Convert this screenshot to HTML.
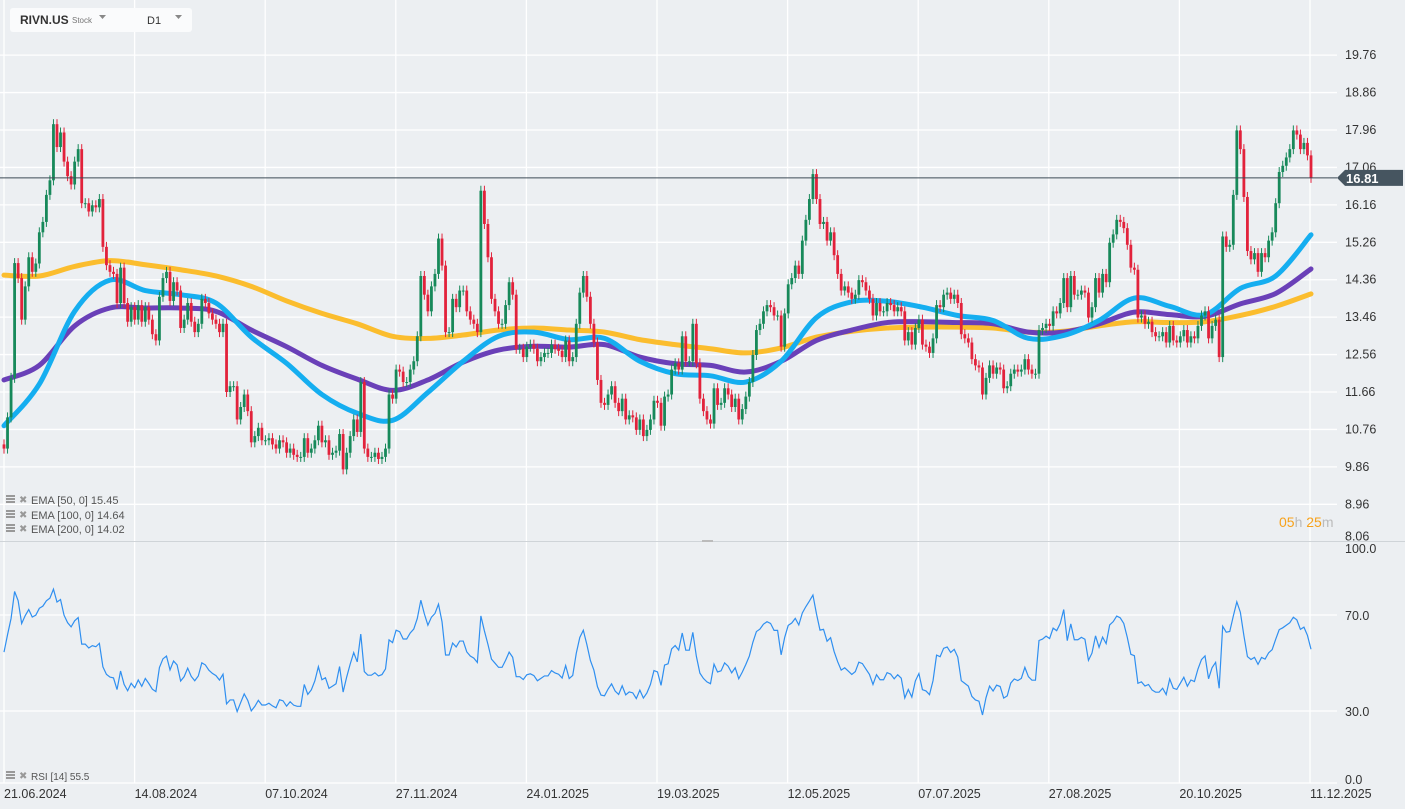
<!DOCTYPE html>
<html><head><meta charset="utf-8"><style>
html,body{margin:0;padding:0;background:#eceff2;}
body{width:1405px;height:809px;overflow:hidden;position:relative;font-family:"Liberation Sans",sans-serif;}
svg{position:absolute;left:0;top:0;}
</style></head><body>
<svg id="chart" width="1405" height="809" xmlns="http://www.w3.org/2000/svg">
<rect x="0" y="0" width="1405" height="809" fill="#eceff2"/>
<g id="grid"></g>
<g id="ema"></g>
<g id="candles"></g>
<g id="rsi"></g>
<g id="axes"></g>
<g>
<rect x="10" y="8" width="182" height="24" rx="3" fill="#fafbfc"/>
<text x="20" y="24" font-size="12" font-weight="bold" fill="#333">RIVN.US</text>
<text x="72" y="23" font-size="8" fill="#777">Stock</text>
<path d="M99 15 L106 15 L102.5 19 Z" fill="#888"/>
<text x="147" y="24" font-size="11" fill="#333">D1</text>
<path d="M175 15 L182 15 L178.5 19 Z" fill="#888"/>
</g>
<g font-size="11" fill="#555">
<g><rect x="6" y="495" width="9" height="2" fill="#999"/><rect x="6" y="498" width="9" height="2" fill="#999"/><rect x="6" y="501" width="9" height="2" fill="#999"/><text x="19" y="503" fill="#999" font-size="10">✖</text><text x="31" y="504">EMA [50, 0] 15.45</text></g>
<g><rect x="6" y="510" width="9" height="2" fill="#999"/><rect x="6" y="513" width="9" height="2" fill="#999"/><rect x="6" y="516" width="9" height="2" fill="#999"/><text x="19" y="518" fill="#999" font-size="10">✖</text><text x="31" y="519">EMA [100, 0] 14.64</text></g>
<g><rect x="6" y="524" width="9" height="2" fill="#999"/><rect x="6" y="527" width="9" height="2" fill="#999"/><rect x="6" y="530" width="9" height="2" fill="#999"/><text x="19" y="532" fill="#999" font-size="10">✖</text><text x="31" y="533">EMA [200, 0] 14.02</text></g>
<g><rect x="6" y="771" width="9" height="2" fill="#999"/><rect x="6" y="774" width="9" height="2" fill="#999"/><rect x="6" y="777" width="9" height="2" fill="#999"/><text x="19" y="779" fill="#999" font-size="10">✖</text><text x="31" y="780" font-size="10">RSI [14] 55.5</text></g>
</g>
<text x="1279" y="527" font-size="14"><tspan fill="#f7a21b">05</tspan><tspan fill="#bbb">h </tspan><tspan fill="#f7a21b">25</tspan><tspan fill="#bbb">m</tspan></text>
<rect x="702" y="540" width="11" height="2" fill="#bbb"/>
</svg>
<script>
const closes = [
10.3,11.05,12.0,14.76,14.4,13.4,14.2,14.9,14.55,14.75,15.5,15.75,16.4,16.75,18.1,17.55,17.9,17.2,16.85,16.65,17.2,17.5,16.2,16.2,16.0,16.15,16.1,16.3,15.15,
14.71,14.55,14.5,13.8,14.65,13.8,13.35,13.7,13.4,13.75,13.35,13.7,13.4,13.05,12.9,13.95,14.4,14.55,13.85,14.3,14.1,13.2,13.4,13.8,13.35,13.1,13.3,13.9,13.8,13.55,13.4,13.3,13.1,13.3,11.66,11.8,11.8,11.0,11.3,11.6,11.2,10.45,10.6,10.8,10.5,10.5,10.55,10.4,10.3,10.5,10.45,10.2,10.3,10.15,10.1,10.1,10.55,10.2,10.3,10.5,10.85,10.45,10.5,10.15,10.2,10.25,10.65,
9.8,10.2,10.6,11.0,10.7,11.9,10.3,10.1,10.1,10.2,10.05,10.1,10.3,11.6,11.5,12.2,12.15,11.9,11.9,12.2,12.4,13.0,14.45,14.0,13.6,14.2,14.5,15.35,14.7,13.1,13.1,13.9,13.7,14.1,14.1,13.6,13.4,13.3,13.1,16.5,15.7,14.9,13.9,13.6,13.3,13.3,13.75,14.3,14.0,12.7,12.7,12.5,12.75,12.8,12.7,12.4,12.5,12.6,12.6,12.8,12.7,12.65,12.5,12.9,12.4,12.5,13.3,14.05,14.45,13.95,13.3,12.85,11.95,11.4,11.35,11.6,11.8,11.4,11.2,11.5,11.0,11.1,11.05,10.75,11.0,10.6,10.75,11.0,11.45,11.4,10.85,11.55,
11.6,12.2,12.35,12.2,13.0,12.4,12.4,13.3,12.35,11.5,11.2,11.0,10.9,11.75,11.35,11.4,11.75,11.6,11.3,11.5,11.0,11.25,11.55,11.9,12.55,13.15,13.3,13.6,13.75,13.7,13.5,13.5,12.75,13.55,14.25,14.4,14.7,14.5,15.3,15.8,16.3,16.9,16.3,15.7,15.75,15.3,15.5,14.95,14.5,14.1,14.2,14.05,13.9,14.0,14.35,14.3,14.1,13.9,13.5,13.8,13.6,13.6,13.8,13.75,13.6,13.7,13.6,12.9,13.1,12.8,13.2,13.4,12.8,12.75,12.6,12.95,13.75,13.7,14.0,14.05,13.9,14.0,13.8,13.05,12.95,12.85,12.45,12.3,12.25,11.6,12.0,
12.3,12.1,12.25,12.2,11.75,11.8,12.1,12.2,12.15,12.2,12.45,12.2,12.1,12.1,13.15,13.2,13.3,13.25,13.6,13.55,13.8,14.4,13.7,14.45,14.0,14.0,14.1,14.05,13.45,13.7,14.4,14.05,14.5,14.3,15.25,15.45,15.8,15.75,15.6,15.2,14.65,14.6,13.45,13.5,13.3,13.35,13.1,13.0,13.0,13.1,12.85,13.25,12.9,12.85,13.0,13.15,12.85,13.0,12.95,13.25,13.5,13.6,12.95,13.25,13.4,12.5,15.4,15.15,15.2,16.4,17.95,17.5,16.35,15.05,14.85,15.0,14.55,15.0,14.9,15.3,15.5,16.2,16.95,17.1,17.3,17.5,17.95,17.85,17.5,17.65,17.35,16.81
];
// EMA values sampled every 10th candle (index 0,10,...,370)
const ema50 = [10.85,11.85,13.6,14.35,14.1,14.0,13.8,12.98,12.35,11.6,11.15,10.98,11.65,12.4,13.0,13.1,12.92,12.95,12.4,12.1,12.05,11.9,12.4,13.45,13.83,13.84,13.7,13.5,13.38,12.95,13.02,13.38,13.92,13.72,13.52,14.15,14.45,15.44];
const ema100 = [11.95,12.3,13.25,13.68,13.68,13.68,13.6,13.15,12.75,12.3,11.97,11.7,11.95,12.38,12.67,12.76,12.74,12.8,12.5,12.34,12.3,12.14,12.4,12.9,13.15,13.33,13.35,13.33,13.3,13.1,13.1,13.3,13.58,13.52,13.48,13.78,14.03,14.62];
const ema200 = [14.47,14.45,14.68,14.82,14.72,14.6,14.45,14.2,13.85,13.55,13.3,13.0,12.95,13.03,13.15,13.2,13.15,13.1,12.92,12.8,12.7,12.6,12.72,12.98,13.12,13.2,13.22,13.22,13.2,13.1,13.12,13.25,13.35,13.33,13.35,13.5,13.72,14.02];
const priceTicks = [19.76,18.86,17.96,17.06,16.16,15.26,14.36,13.46,12.56,11.66,10.76,9.86,8.96,8.06];
const rsiTicks = [100,70,30,0];
const dateLabels = ["21.06.2024","14.08.2024","07.10.2024","27.11.2024","24.01.2025","19.03.2025","12.05.2025","07.07.2025","27.08.2025","20.10.2025","11.12.2025"];
const lastPrice = 16.81;

const NS="http://www.w3.org/2000/svg";
const n = closes.length;
const step = 1307/(n-1);
function xI(i){return 4+i*step;}
function yP(p){return 130+(17.96-p)*41.59;}
function yR(r){return 711-(r-30)*2.4;}
function mk(tag,attrs,parent){const e=document.createElementNS(NS,tag);for(const k in attrs)e.setAttribute(k,attrs[k]);parent.appendChild(e);return e;}

const grid=document.getElementById('grid');
const axes=document.getElementById('axes');
dateLabels.forEach((d,k)=>{
  const x=4+k*130.6;
  const l=mk('line',{x1:x,y1:0,x2:x,y2:783,stroke:'#ffffff','stroke-width':1.3},grid);
  
  
  const t=mk('text',{x:x,y:798,'font-size':12.5,fill:'#333'},axes);
  t.textContent=d;
  
  
});
priceTicks.forEach(p=>{
  const y=yP(p);
  if(p>8.1){
    const l=mk('line',{x1:0,y1:y,x2:1337,y2:y,stroke:'#ffffff','stroke-width':1.3},grid);
    
    
  }
  const t=mk('text',{x:1345,y:y+(p<8.1?-1:4),'font-size':12.5,fill:'#333'},axes);
  t.textContent=p.toFixed(2);
  
  
});
const div=mk('line',{x1:0,y1:541.5,x2:1405,y2:541.5,stroke:'#cfd4d8','stroke-width':1},grid);


rsiTicks.forEach(r=>{
  const y=yR(r);
  if(r===70||r===30){
    const l=mk('line',{x1:0,y1:y,x2:1337,y2:y,stroke:'#ffffff','stroke-width':1.3},grid);
    
    
  }
  const ty = r===100?553:(r===0?784:y+5);
  const t=mk('text',{x:1345,y:ty,'font-size':12.5,fill:'#333'},axes);
  t.textContent=r.toFixed(1);
  
  
});
const bl=mk('line',{x1:0,y1:783,x2:1337,y2:783,stroke:'#ffffff','stroke-width':1.3},grid);



const emaG=document.getElementById('ema');
function emaPath(arr,color,name){
  const pts=arr.map((v,k)=>[xI(Math.min(k*10,n-1)),yP(v)]);
  let d='M'+pts[0][0]+' '+pts[0][1];
  for(let k=0;k<pts.length-1;k++){
    const p0=pts[Math.max(0,k-1)],p1=pts[k],p2=pts[k+1],p3=pts[Math.min(pts.length-1,k+2)];
    const c1x=p1[0]+(p2[0]-p0[0])/6,c1y=p1[1]+(p2[1]-p0[1])/6;
    const c2x=p2[0]-(p3[0]-p1[0])/6,c2y=p2[1]-(p3[1]-p1[1])/6;
    d+=` C${c1x} ${c1y} ${c2x} ${c2y} ${p2[0]} ${p2[1]}`;
  }
  const e=mk('path',{d:d,fill:'none',stroke:color,'stroke-width':5,'stroke-linecap':'round','stroke-linejoin':'round'},emaG);
  
  
}
emaPath(ema200,'#fbbd2e','ema-200-line');
emaPath(ema100,'#6a40b8','ema-100-line');
emaPath(ema50,'#15aef0','ema-50-line');

const lp=mk('line',{x1:0,y1:yP(lastPrice),x2:1337,y2:yP(lastPrice),stroke:'#3d4a55','stroke-width':1},axes);



const cg=document.getElementById('candles');
for(let i=0;i<n;i++){
  const o=i>0?closes[i-1]:closes[0]+0.1;
  const c=closes[i];
  const up=c>=o;
  const col=up?'#17895a':'#e2223b';
  const hi=Math.max(o,c)+0.12, lo=Math.min(o,c)-0.12;
  const x=xI(i);
  const w=mk('line',{x1:x,y1:yP(hi),x2:x,y2:yP(lo),stroke:col,'stroke-width':1},cg);
  
  
  const top=yP(Math.max(o,c)),h=Math.max(1,yP(Math.min(o,c))-top);
  const b=mk('rect',{x:x-1.4,y:top,width:2.8,height:h,fill:col},cg);
  
  
}

const rg=document.getElementById('rsi');
let ag=0.18,al=0.15;const rsi=[];
for(let i=0;i<n;i++){
  const ch=i>0?closes[i]-closes[i-1]:0;
  ag=(ag*13+Math.max(ch,0))/14; al=(al*13+Math.max(-ch,0))/14;
  rsi.push(100-100/(1+ag/al));
}
const rp=mk('polyline',{points:rsi.map((r,i)=>xI(i)+','+yR(r)).join(' '),fill:'none',stroke:'#2f8ff0','stroke-width':1.2},rg);



const ty=yP(lastPrice);
const tag=mk('path',{d:`M1337 ${ty} L1345 ${ty-8} L1403 ${ty-8} L1403 ${ty+8} L1345 ${ty+8} Z`,fill:'#465560'},axes);


const tt=mk('text',{x:1346,y:ty+5,'font-size':13,'font-weight':'bold',fill:'#fff'},axes);
tt.textContent=lastPrice.toFixed(2);


</script>
</body></html>
